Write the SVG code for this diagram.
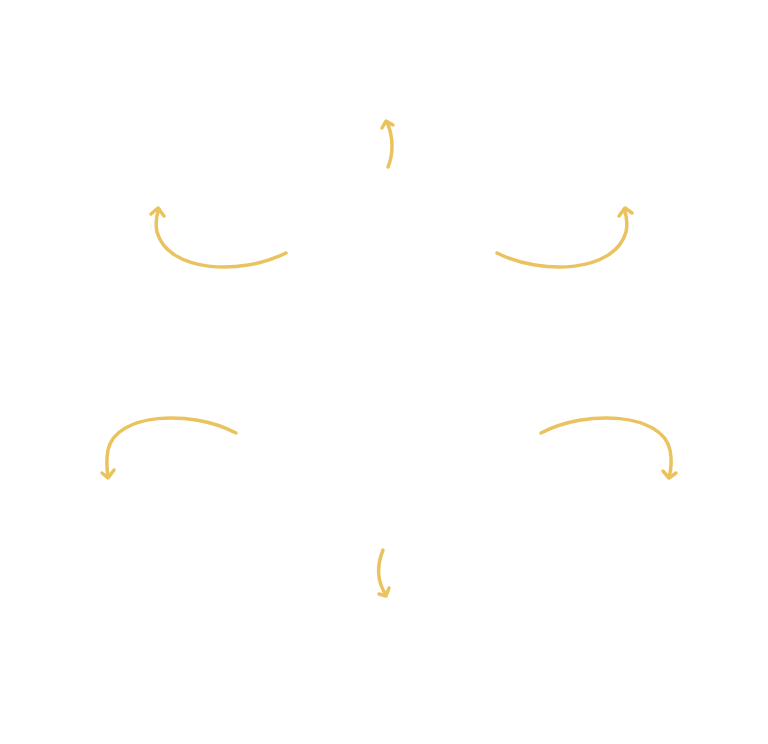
<svg xmlns="http://www.w3.org/2000/svg" width="768" height="744" viewBox="0 0 768 744">
<style>
.c{fill:none;stroke:#EBC35E;stroke-width:3.5;stroke-linecap:round;stroke-linejoin:round}
</style>
<rect width="768" height="744" fill="#FFFFFF"/>
<g id="connectors">
<path class="c" d="M388,167 C393,155 394,138 387,122"/>
<path class="c" d="M382,128 L386,121 L393,125"/>
<path class="c" d="M286,253 C240,276 168,272 157,232 C155,222 157,214 159,209"/>
<path class="c" d="M151,214 L158,208 L164,216"/>
<path class="c" d="M497,253 C543,276 615,272 626,232 C628,222 626,214 624,209"/>
<path class="c" d="M619,216 L625,208 L632,213"/>
<path class="c" d="M236,433 C190,409 116,413 108,450 C106,460 107,470 108,477"/>
<path class="c" d="M102,473 L108,478 L114,470"/>
<path class="c" d="M541,433 C587,409 662,413 670,450 C672,460 671,470 669,477"/>
<path class="c" d="M663,471 L669,478 L676,473"/>
<path class="c" d="M383,550 C377,565 376,580 386,595"/>
<path class="c" d="M379,594 L386,596 L389,588"/>
</g>
</svg>
